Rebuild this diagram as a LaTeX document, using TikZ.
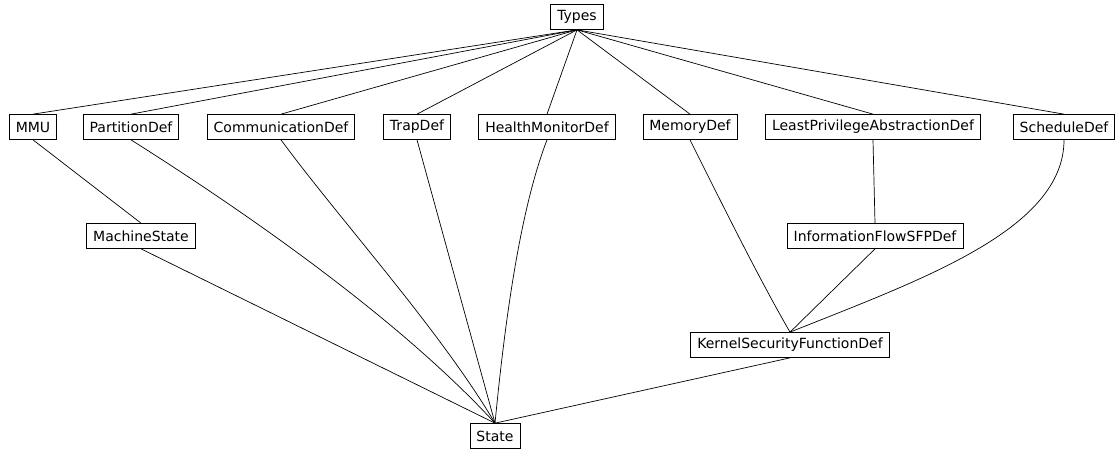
\documentclass[tikz,border=0pt]{standalone}
\usepackage{fontspec}
\setmainfont{DejaVu Sans}
\tikzset{
  module/.style={draw, line width=0.7pt, inner xsep=6.5pt, inner ysep=0pt,
    minimum height=25pt, font=\fontsize{14}{16}\selectfont},
  dep/.style={line width=0.7pt}
}
\begin{document}
\begin{tikzpicture}[x=1pt, y=-1pt]
    \useasboundingbox (0,0) rectangle (1118,450);
    % modules
    \node[module] (types) at (577,17) {Types};
    \node[module] (mmu) at (33,127) {MMU};
    \node[module] (part) at (131,127) {PartitionDef};
    \node[module] (comm) at (281,127) {CommunicationDef};
    \node[module] (trap) at (417,127) {TrapDef};
    \node[module] (health) at (547,127) {HealthMonitorDef};
    \node[module] (mem) at (690,127) {MemoryDef};
    \node[module] (lpa) at (873,127) {LeastPrivilegeAbstractionDef};
    \node[module] (sched) at (1064,127) {ScheduleDef};
    \node[module] (mach) at (141,236) {MachineState};
    \node[module] (ifsfp) at (875,236) {InformationFlowSFPDef};
    \node[module] (ksf) at (790,345) {KernelSecurityFunctionDef};
    \node[module] (state) at (495,436) {State};
    % dependencies
    \foreach \m in {mmu,part,comm,trap,health,mem,lpa,sched}
      \draw[dep] (types.south) -- (\m.north);
    \draw[dep] (mmu.south) -- (mach.north);
    \draw[dep] (mach.south) -- (state.north);
    \draw[dep] (part.south) .. controls (250,215) and (400,320) .. (state.north);
    \draw[dep] (comm.south) .. controls (340,220) and (440,330) .. (state.north);
    \draw[dep] (trap.south) -- (state.north);
    \draw[dep] (health.south) .. controls (520,210) and (505,320) .. (state.north);
    \draw[dep] (mem.south) .. controls (730,220) and (760,280) .. (ksf.north);
    \draw[dep] (lpa.south) -- (ifsfp.north);
    \draw[dep] (ifsfp.south) -- (ksf.north);
    \draw[dep] (sched.south) .. controls (1064,230) and (920,280) .. (ksf.north);
    \draw[dep] (ksf.south) -- (state.north);
  \end{tikzpicture}
\end{document}
